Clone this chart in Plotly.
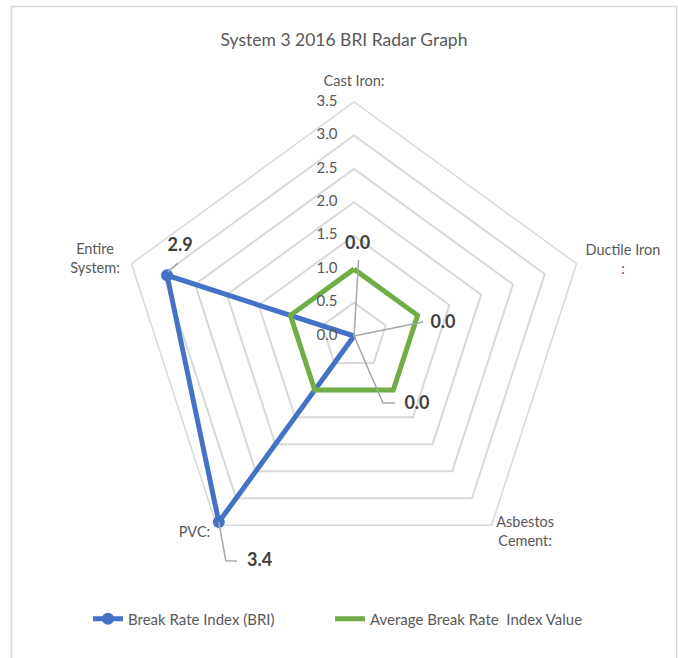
import math
import plotly.graph_objects as go

categories = ["Cast Iron:", "Ductile Iron<br>:", "Asbestos<br>Cement:", "PVC:", "Entire<br>System:"]
bri_values = [0.0, 0.0, 0.0, 3.44, 2.94]
avg_values = [1.0, 1.0, 1.0, 1.0, 1.0]
radial_ticks = [0.0, 0.5, 1.0, 1.5, 2.0, 2.5, 3.0, 3.5]
series_names = ["Break Rate Index (BRI)", "Average Break Rate  Index Value"]
title_text = "System 3 2016 BRI Radar Graph"

W, H = 678, 658
CX, CY = 354, 336          # chart centre (px)
R_MAIN = 234               # px radius of the 3.5 ring
RMAX = 3.5
K = R_MAIN / RMAX
R_OVER = 310               # overlay radius for labels
TICK_DX = 27               # px left of the radial axis for tick label centres

FONT = "Lato, 'Open Sans', sans-serif"
GRID = "#d9d9d9"
TXT = "#595959"
BLUE = "#4472C4"
GREEN = "#70AD47"


def dom(r):
    return dict(x=[(CX - r) / W, (CX + r) / W],
                y=[1 - (CY + r) / H, 1 - (CY - r) / H])


n = len(categories)
step = 360 / n
cat_angles = [i * step for i in range(n)]

fig = go.Figure()

theta_closed = categories + [categories[0]]
fig.add_trace(go.Scatterpolar(
    r=bri_values + [bri_values[0]], theta=theta_closed, mode="lines+markers",
    line=dict(color=BLUE, width=5), marker=dict(size=12, color=BLUE),
    name=series_names[0], subplot="polar", cliponaxis=False, legend="legend"))
fig.add_trace(go.Scatterpolar(
    r=avg_values + [avg_values[0]], theta=theta_closed, mode="lines",
    line=dict(color=GREEN, width=5),
    name=series_names[1], subplot="polar", cliponaxis=False, legend="legend2"))

# radial tick labels, placed left of the vertical axis
tick_r = [math.hypot(v * K, TICK_DX) / K for v in radial_ticks]
tick_t = [math.degrees(math.atan2(-TICK_DX, v * K)) for v in radial_ticks]
fig.add_trace(go.Scatterpolar(
    r=tick_r, theta=tick_t, mode="text",
    text=[f"{v:.1f}" for v in radial_ticks], textposition="middle center",
    textfont=dict(family=FONT, size=15, color=TXT),
    showlegend=False, hoverinfo="skip", subplot="polar2", cliponaxis=False))

# category label placement (style) in overlay polar coords
cat_label_pos = [(3.80, 0.0), (4.177, 74.4), (3.902, 139.0), (3.791, 219.0), (4.037, 286.4)]
fig.add_trace(go.Scatterpolar(
    r=[p[0] for p in cat_label_pos], theta=[p[1] for p in cat_label_pos],
    mode="text", text=categories, textposition="middle center",
    textfont=dict(family=FONT, size=14.5, color=TXT),
    showlegend=False, hoverinfo="skip", subplot="polar2", cliponaxis=False))

# data label placement (style): (label r, label theta, leader path points)
label_style = [
    dict(lr=1.377, lt=2.3, path=[(0, 0), (1.139, 3.5)]),
    dict(lr=1.343, lt=82.3, path=[(0, 0), (1.053, 78.5)]),
    dict(lr=1.397, lt=137.6, path=[(0, 0), (1.092, 156.6), (1.175, 148.5)]),
    dict(lr=3.658, lt=202.7, path=[(None, None), (3.870, 209.7), (3.793, 207.5)]),
    dict(lr=2.923, lt=297.1, path=[(2.942, 289.0), (2.85, 292.5)]),
]

for i, st in enumerate(label_style):
    pts = []
    for (pr, pt) in st["path"]:
        if pr is None:
            pr, pt = bri_values[i], cat_angles[i]
        pts.append((pr, pt))
    fig.add_trace(go.Scatterpolar(
        r=[p[0] for p in pts], theta=[p[1] for p in pts], mode="lines",
        line=dict(color="#a6a6a6", width=1.5), showlegend=False,
        hoverinfo="skip", subplot="polar2", cliponaxis=False))

fig.add_trace(go.Scatterpolar(
    r=[s["lr"] for s in label_style], theta=[s["lt"] for s in label_style],
    mode="text", text=[f"{v:.1f}" for v in bri_values],
    textfont=dict(family=FONT, size=18, color="#404040", weight="bold"),
    textposition="middle center", showlegend=False, hoverinfo="skip",
    subplot="polar2", cliponaxis=False))

legend_common = dict(orientation="h", xanchor="left", y=1 - 619 / H,
                     yanchor="middle", bgcolor="rgba(0,0,0,0)",
                     font=dict(family=FONT, size=15, color=TXT))

fig.update_layout(
    width=W, height=H, margin=dict(l=0, r=0, t=0, b=0),
    paper_bgcolor="white", plot_bgcolor="white",
    font=dict(family=FONT, color=TXT),
    title=dict(text=title_text, x=344 / W, xanchor="center", y=1 - 40 / H,
               yanchor="middle", font=dict(family=FONT, size=17.5, color=TXT)),
    polar=dict(
        domain=dom(R_MAIN), bgcolor="white", gridshape="linear",
        radialaxis=dict(range=[0, RMAX], tickvals=radial_ticks,
                        angle=90, showticklabels=False,
                        showline=False, ticks="", gridcolor=GRID, gridwidth=1.5,
                        layer="below traces"),
        angularaxis=dict(direction="clockwise", rotation=90, showgrid=False,
                         showline=True, linecolor=GRID, linewidth=1.5, ticks="",
                         showticklabels=False, layer="below traces"),
    ),
    polar2=dict(
        domain=dom(R_OVER), bgcolor="rgba(0,0,0,0)",
        radialaxis=dict(range=[0, R_OVER / K], visible=False),
        angularaxis=dict(direction="clockwise", rotation=90, visible=False,
                         type="linear"),
    ),
    legend=dict(x=88 / W, **legend_common),
    legend2=dict(x=330 / W, **legend_common),
    shapes=[dict(type="rect", xref="paper", yref="paper",
                 x0=11.5 / W, x1=676.5 / W, y0=-0.02, y1=1 - 6.5 / H,
                 line=dict(color=GRID, width=1.5), fillcolor="rgba(0,0,0,0)",
                 layer="below")],
)

fig.write_html("out.html")
